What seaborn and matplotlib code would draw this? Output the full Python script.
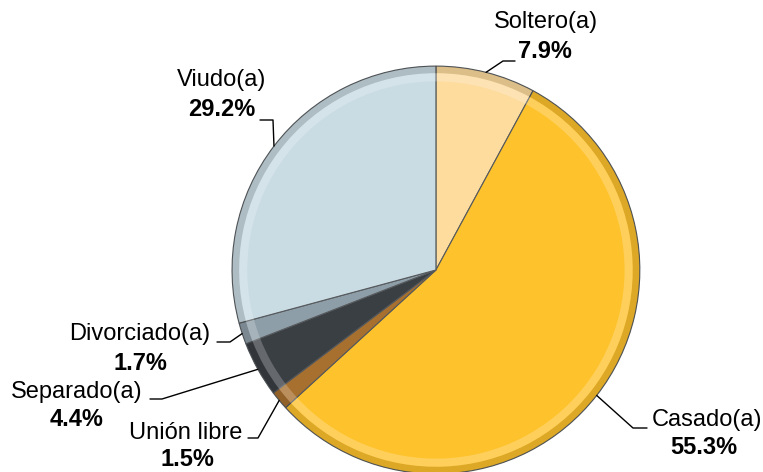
import numpy as np
import matplotlib.pyplot as plt
import seaborn as sns

# datos del gráfico
categorias = ['Soltero(a)', 'Casado(a)', 'Unión libre', 'Separado(a)', 'Divorciado(a)', 'Viudo(a)']
porcentajes = [7.9, 55.3, 1.5, 4.4, 1.7, 29.2]
colores = ['#FDDC9E', '#FEC22C', '#A8702F', '#3A3F44', '#8E9EA8', '#C9DBE3']

sns.set_theme(style='white')
plt.rcParams['font.family'] = ['Liberation Sans', 'DejaVu Sans']

W, H = 763, 472
fig = plt.figure(figsize=(W / 100, H / 100), dpi=100)
ax = fig.add_axes([0.304, -0.004, 0.5347, 0.864])

wedges, _ = ax.pie(porcentajes, colors=colores, startangle=90, counterclock=False,
                   radius=1.0, wedgeprops=dict(edgecolor='#55595c', linewidth=0.8))
# bisel: borde exterior oscuro y franja clara hacia dentro
ax.pie(porcentajes, startangle=90, counterclock=False, radius=1.0,
       wedgeprops=dict(width=0.035, facecolor='#00000022', edgecolor='none'))
ax.pie(porcentajes, startangle=90, counterclock=False, radius=0.965,
       wedgeprops=dict(width=0.04, facecolor='#FFFFFF38', edgecolor='none'))
ax.set_xlim(-1, 1)
ax.set_ylim(-1, 1)
ax.set_aspect('equal')
ax.axis('off')

# ubicación de etiquetas en píxeles: centro del nombre, centro del porcentaje, codo y final de la línea
etiquetas = {
    'Soltero(a)':    dict(nombre=(546, 22), pct=(545, 51), codo=(503, 61), fin=(515, 61)),
    'Casado(a)':     dict(nombre=(707, 420), pct=(704, 448), codo=(633, 428), fin=(647, 428)),
    'Unión libre':   dict(nombre=(186, 433), pct=(187, 459), codo=(258, 438), fin=(248, 438)),
    'Separado(a)':   dict(nombre=(77, 392), pct=(77, 420), codo=(162, 399), fin=(150, 399)),
    'Divorciado(a)': dict(nombre=(140, 334), pct=(140, 363), codo=(230, 342), fin=(217, 342)),
    'Viudo(a)':      dict(nombre=(222, 80), pct=(222, 110), codo=(273, 120), fin=(260, 120)),
}


def fr(p):
    return p[0] / W, (H - p[1]) / H


for w, cat, p in zip(wedges, categorias, porcentajes):
    ang = np.deg2rad((w.theta1 + w.theta2) / 2)
    inicio = fig.transFigure.inverted().transform(ax.transData.transform((np.cos(ang), np.sin(ang))))
    e = etiquetas[cat]
    fig.text(*fr(e['nombre']), cat, ha='center', va='center', fontsize=17, color='black')
    fig.text(*fr(e['pct']), f'{p:.1f}%', ha='center', va='center', fontsize=17,
             fontweight='bold', color='black')
    codo, fin = fr(e['codo']), fr(e['fin'])
    fig.add_artist(plt.Line2D([inicio[0], codo[0], fin[0]], [inicio[1], codo[1], fin[1]],
                              color='black', lw=1, transform=fig.transFigure))

fig.savefig('out.png', dpi=100)
